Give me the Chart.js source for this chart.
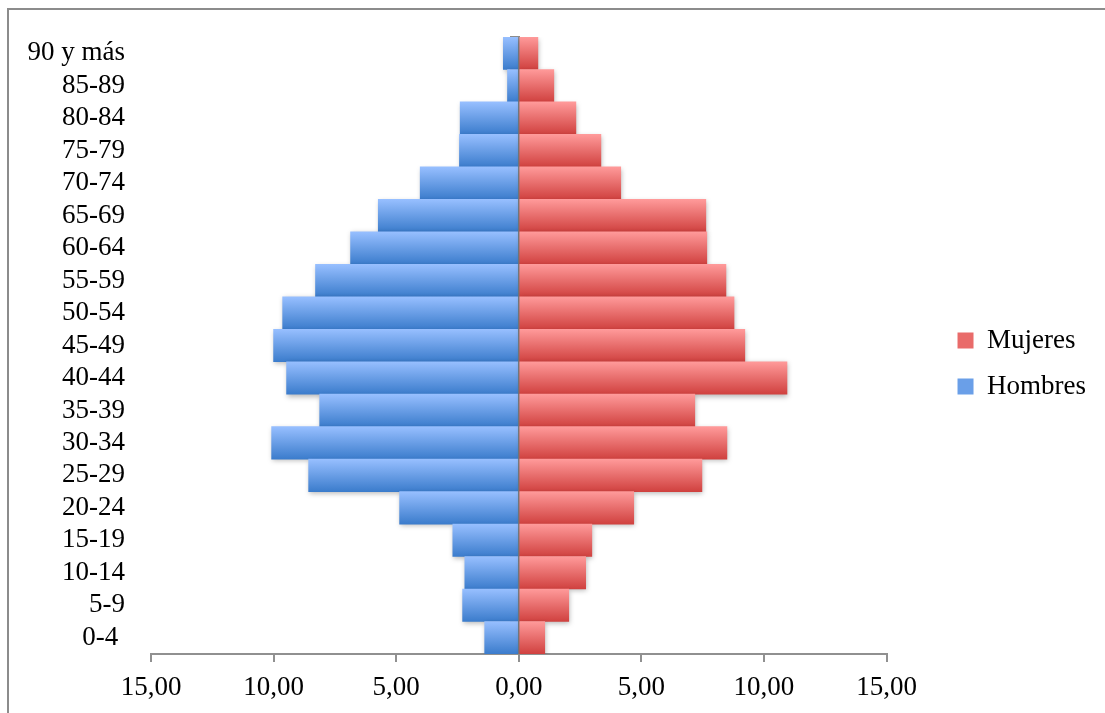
<!DOCTYPE html>
<html>
<head>
<meta charset="utf-8">
<script src="https://cdn.jsdelivr.net/npm/chart.js@4"></script>
<style>
  html, body { margin:0; padding:0; background:#fff; overflow:hidden; }
  #frame { position:absolute; left:7px; top:8px; width:2000px; height:2000px; border:2px solid #8c8c8c; }
  #wrap { position:absolute; left:0; top:0; width:1105px; height:713px; }
</style>
</head>
<body>
<div id="frame"></div>
<div id="wrap"><canvas id="chart" width="1105" height="713"></canvas></div>
<script>
// grupos de edad, de arriba abajo
const grupos = ["90 y más","85-89","80-84","75-79","70-74","65-69","60-64","55-59","50-54",
  "45-49","40-44","35-39","30-34","25-29","20-24","15-19","10-14","5-9","0-4 "];
const mujeres = [0.78,1.43,2.33,3.35,4.16,7.63,7.67,8.45,8.78,9.22,10.94,7.18,8.49,7.47,4.69,2.98,2.73,2.04,1.06];
const hombres = [0.63,0.46,2.39,2.42,4.02,5.73,6.86,8.29,9.63,10.0,9.47,8.12,10.08,8.57,4.86,2.69,2.2,2.29,1.39];
const ejeX = [-15,-10,-5,0,5,10,15];

const FONT = "'Liberation Serif', 'Times New Roman', serif";
Chart.defaults.font.family = FONT;
Chart.defaults.font.size = 27;
Chart.defaults.color = "#000";

// degradado vertical por barra (claro arriba, oscuro abajo)
function degradado(claro, oscuro){
  return c=>{
    const chart = c.chart;
    const y = chart.scales.y;
    if(c.type!=="data" || !y || !chart.chartArea) return oscuro;
    const centro = y.getPixelForValue(c.dataIndex);
    const h = (chart.chartArea.bottom-chart.chartArea.top)/grupos.length;
    const g = chart.ctx.createLinearGradient(0,centro-h/2,0,centro+h/2);
    g.addColorStop(0,claro);
    g.addColorStop(1,oscuro);
    return g;
  };
}

// sombra suave bajo las barras
const sombra = {
  id:"sombra",
  beforeDatasetsDraw(chart){
    const ctx = chart.ctx;
    ctx.save();
    ctx.shadowColor = "rgba(0,0,0,0.28)";
    ctx.shadowBlur = 5;
    ctx.shadowOffsetX = 1;
    ctx.shadowOffsetY = 2;
  },
  afterDatasetsDraw(chart){ chart.ctx.restore(); }
};

new Chart(document.getElementById("chart"),{
  type:"bar",
  data:{
    labels:grupos,
    datasets:[
      {label:"Mujeres",data:mujeres,backgroundColor:degradado("#ff9a9a","#d0413f"),
        borderWidth:0,barPercentage:1,categoryPercentage:1,yAxisID:"y"},
      {label:"Hombres",data:hombres.map(v=>-v),backgroundColor:degradado("#97bfff","#3b7ccc"),
        borderWidth:0,barPercentage:1,categoryPercentage:1,yAxisID:"y"}
    ]
  },
  options:{
    indexAxis:"y",
    responsive:false,
    animation:false,
    devicePixelRatio:1,
    layout:{padding:{left:0,top:37,right:9,bottom:0}},
    plugins:{
      tooltip:{enabled:false},
      legend:{
        position:"right",
        align:"start",
        maxWidth:220,
        title:{display:true, text:"", font:{size:10}, padding:{top:259, bottom:0}},
        labels:{
          boxWidth:16, boxHeight:16, padding:19,
          generateLabels(chart){
            const cols = ["#e96b6a","#6a9fe8"];
            return chart.data.datasets.map((d,i)=>({
              text:d.label, fillStyle:cols[i], strokeStyle:cols[i], lineWidth:0, datasetIndex:i, fontColor:"#000"
            }));
          }
        }
      }
    },
    scales:{
      x:{
        type:"linear", min:-15, max:15, stacked:true,
        afterBuildTicks(s){ s.ticks = ejeX.map(v=>({value:v})); },
        ticks:{padding:10, font:{lineHeight:1.15}, callback:v=>Math.abs(v).toFixed(2).replace(".",","), maxRotation:0},
        grid:{drawOnChartArea:false, tickLength:8, color:"#909090", lineWidth:2},
        border:{color:"#909090", width:2}
      },
      y:{
        type:"category", position:"left", stacked:true, offset:true,
        afterFit(s){ s.width = 151; s.paddingTop = 0; s.paddingBottom = 0; },
        ticks:{padding:26, autoSkip:false},
        grid:{display:false, drawTicks:false},
        border:{display:false}
      },
      yMid:{
        type:"category", axis:"y", position:{x:0}, offset:true,
        ticks:{display:false},
        grid:{offset:true, drawOnChartArea:false, tickLength:8, color:"#8c8c8c", lineWidth:2},
        border:{color:"#8c8c8c", width:2}
      },
      yHueco:{
        type:"category", axis:"y", position:"right",
        ticks:{display:false},
        grid:{display:false, drawTicks:false},
        border:{display:false},
        afterFit(s){ s.width = 52; }
      }
    }
  },
  plugins:[sombra]
});
</script>
</body>
</html>
